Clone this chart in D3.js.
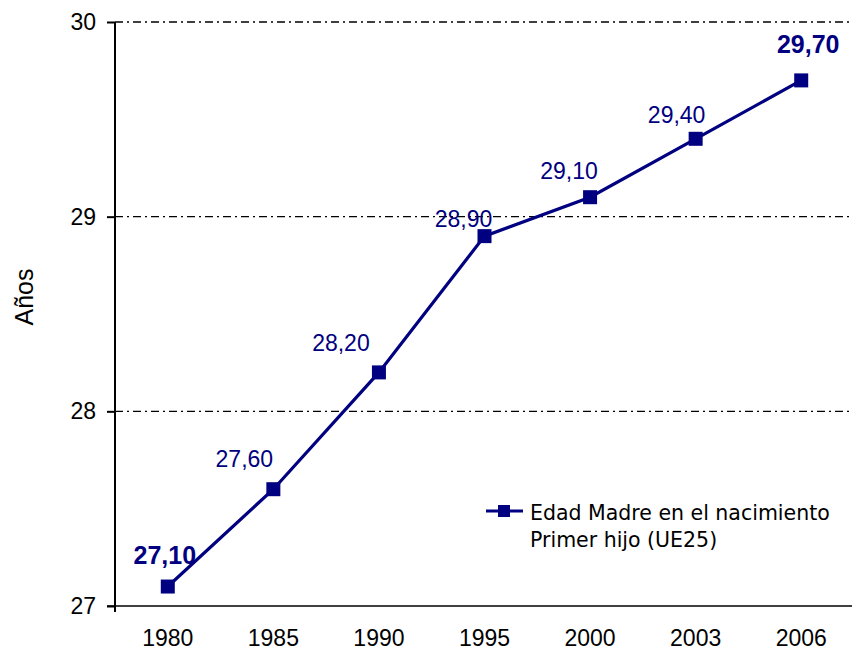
<!DOCTYPE html>
<html>
<head>
<meta charset="utf-8">
<script src="https://cdn.jsdelivr.net/npm/d3@7"></script>
<style>
  body { margin: 0; background: #fff; }
  svg { display: block; }
</style>
</head>
<body>
<script>
// data
var years = ['1980', '1985', '1990', '1995', '2000', '2003', '2006'];
var edad = [27.1, 27.6, 28.2, 28.9, 29.1, 29.4, 29.7];
var yTicks = [27, 28, 29, 30];
var seriesName = ['Edad Madre en el nacimiento', 'Primer hijo (UE25)'];

// label nudges (layout only), as placed in the original sheet
var labelDx = [-3, -29, -38, -21, -21, -19, 7];
var labelDy = [-23, -22, -21, -9, -18, -16, -27];
var labelBold = [true, false, false, false, false, false, true];

var W = 852, H = 650;
var margin = { left: 115, right: 0, top: 22, bottom: 44 };
var navy = '#000080';
var font = '"Liberation Sans", Arial, sans-serif';

var svg = d3.select('body').append('svg').attr('width', W).attr('height', H)
    .style('font-family', font);

var x = d3.scaleBand().domain(years).range([margin.left, 854]);
var y = d3.scaleLinear().domain([27, 30]).range([606, margin.top]);

// grid lines (dash-dot)
svg.append('g').selectAll('line')
    .data(yTicks.filter(function(t) { return t > 27; }))
    .enter().append('line')
    .attr('x1', margin.left).attr('x2', W)
    .attr('y1', function(d) { return y(d); }).attr('y2', function(d) { return y(d); })
    .style('stroke', '#000').style('stroke-width', 1.3)
    .style('stroke-dasharray', '8,4,2,4');

// y axis
var yAxis = d3.axisLeft(y).tickValues(yTicks).tickSize(8).tickPadding(11)
    .tickFormat(d3.format('d'));
var gy = svg.append('g').attr('transform', 'translate(' + margin.left + ',0)').call(yAxis);
gy.select('.domain').attr('d', 'M0,' + y(30) + 'V' + y(27)).style('stroke', '#000').style('stroke-width', 2);
gy.selectAll('.tick line').style('stroke', '#000').style('stroke-width', 2);
gy.selectAll('text').style('font-size', '23px').style('fill', '#000').style('font-family', font);

// x axis
var xAxis = d3.axisBottom(x).tickSize(0).tickPadding(24);
var gx = svg.append('g').attr('transform', 'translate(0,' + y(27) + ')').call(xAxis);
gx.select('.domain').attr('d', 'M' + (margin.left - 8) + ',0H' + W).style('stroke', '#000').style('stroke-width', 1.5);
gx.selectAll('text').style('font-size', '23px').style('fill', '#000').style('font-family', font);
svg.append('line').attr('x1', margin.left).attr('x2', margin.left)
    .attr('y1', y(27)).attr('y2', y(27) + 6).style('stroke', '#000').style('stroke-width', 2);

// y title
svg.append('text')
    .attr('transform', 'translate(33,297) rotate(-90)')
    .attr('text-anchor', 'middle')
    .style('font-size', '25px')
    .text('Años');

// series line
var pts = years.map(function(yr, i) { return [x(yr) + x.bandwidth() / 2, y(edad[i])]; });
svg.append('path')
    .attr('d', d3.line()(pts))
    .style('fill', 'none').style('stroke', navy).style('stroke-width', 3.2);

var ms = 14;
svg.append('g').selectAll('rect').data(pts).enter().append('rect')
    .attr('x', function(d) { return d[0] - ms / 2; })
    .attr('y', function(d) { return d[1] - ms / 2; })
    .attr('width', ms).attr('height', ms)
    .style('fill', navy);

// data labels
svg.append('g').selectAll('text').data(edad).enter().append('text')
    .attr('x', function(d, i) { return pts[i][0] + labelDx[i]; })
    .attr('y', function(d, i) { return pts[i][1] + labelDy[i]; })
    .attr('text-anchor', 'middle')
    .style('font-size', function(d, i) { return labelBold[i] ? '25px' : '23px'; })
    .style('font-weight', function(d, i) { return labelBold[i] ? 'bold' : 'normal'; })
    .style('fill', navy)
    .text(function(d) { return d.toFixed(2).replace('.', ','); });

// legend
var lg = svg.append('g').attr('transform', 'translate(486,511)');
lg.append('line').attr('x1', 0).attr('x2', 37).attr('y1', 0).attr('y2', 0)
    .style('stroke', navy).style('stroke-width', 3);
lg.append('rect').attr('x', 12).attr('y', -6).attr('width', 12).attr('height', 12).style('fill', navy);
lg.selectAll('text.leg').data(seriesName).enter().append('text')
    .attr('class', 'leg')
    .attr('x', 44)
    .attr('y', function(d, i) { return 9 + i * 27; })
    .style('font-family', '"DejaVu Sans", Verdana, sans-serif')
    .style('font-size', '20.5px')
    .text(function(d) { return d; });
</script>
</body>
</html>
